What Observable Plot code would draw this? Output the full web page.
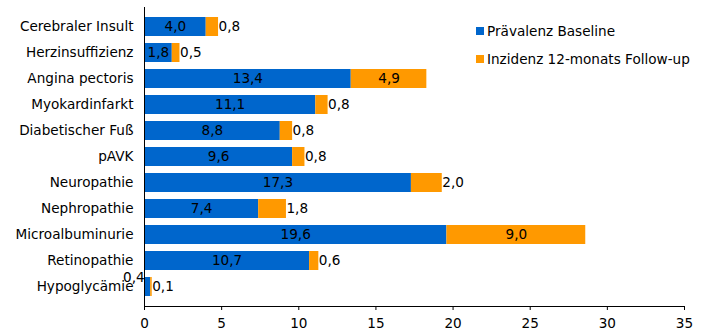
<!DOCTYPE html>
<html><head><meta charset="utf-8">
<script src="https://cdn.jsdelivr.net/npm/d3@7"></script>
<script src="https://cdn.jsdelivr.net/npm/@observablehq/plot@0.6"></script>
<style>
body{margin:0;background:#fff;font-family:"DejaVu Sans",Verdana,sans-serif;}
#wrap{position:relative;width:712px;height:334px;}
.leg{position:absolute;font-size:13.6px;color:#000;display:flex;align-items:center;white-space:nowrap;}
.sw{width:8px;height:8px;margin-right:3px;}
</style></head>
<body><div id="wrap"></div>
<script>
const categories = ["Cerebraler Insult","Herzinsuffizienz","Angina pectoris","Myokardinfarkt","Diabetischer Fuß","pAVK","Neuropathie","Nephropathie","Microalbuminurie","Retinopathie","Hypoglycämie"];
const baseline = [4.0,1.8,13.4,11.1,8.8,9.6,17.3,7.4,19.6,10.7,0.4];
const incidence = [0.8,0.5,4.9,0.8,0.8,0.8,2.0,1.8,9.0,0.6,0.1];
const seriesNames = ["Prävalenz Baseline","Inzidenz 12-monats Follow-up"];
const colors = ["#0066cc","#ff9900"];
const xTicks = [0,5,10,15,20,25,30,35];

const FS = 13.6;
const fmt = v => d3.format(".1f")(v).replace(".", ",");
const rows = categories.map((c,i)=>({cat:c, b:baseline[i], n:incidence[i]}));
const bars = rows.flatMap(r=>[
  {cat:r.cat, s:seriesNames[0], x1:0, x2:r.b},
  {cat:r.cat, s:seriesNames[1], x1:r.b, x2:r.b+r.n}
]);
const smallB = rows.filter(r=>r.b < 1);
const bigB = rows.filter(r=>r.b >= 1);
const smallN = rows.filter(r=>r.n < 3);
const bigN = rows.filter(r=>r.n >= 3);

const chart = Plot.plot({
  width:712, height:334,
  marginLeft:144, marginRight:28, marginTop:7, marginBottom:28,
  style:{fontFamily:"DejaVu Sans, Verdana, sans-serif", fontSize:FS+"px", color:"#000", background:"#fff"},
  x:{domain:[0,35], ticks:xTicks, label:null},
  y:{domain:categories, padding:0.26, label:null},
  color:{domain:seriesNames, range:colors},
  marks:[
    Plot.barX(bars,{y:"cat", x1:"x1", x2:"x2", fill:"s"}),
    Plot.text(bigB,{y:"cat", x:d=>d.b/2, text:d=>fmt(d.b), fill:"#000", textAnchor:"middle", fontSize:FS}),
    Plot.text(smallB,{y:"cat", x:"b", text:d=>fmt(d.b), fill:"#000", textAnchor:"end", dx:-6, dy:-9, fontSize:FS}),
    Plot.text(bigN,{y:"cat", x:d=>d.b+d.n/2, text:d=>fmt(d.n), fill:"#000", textAnchor:"middle", fontSize:FS}),
    Plot.text(smallN,{y:"cat", x:d=>d.b+d.n, text:d=>fmt(d.n), fill:"#000", textAnchor:"start", dx:0, fontSize:FS}),
    Plot.ruleX([0],{stroke:"#000"}),
    Plot.frame({anchor:"bottom", stroke:"#000"}),
    Plot.axisX({ticks:xTicks, tickSize:4, tickPadding:8, tickFormat:d=>String(d), label:null, stroke:"#000", fill:"#000"}),
    Plot.axisY({tickSize:0, tickPadding:11, label:null, fill:"#000"})
  ]
});
const wrap = document.getElementById("wrap");
wrap.appendChild(chart);
const legPos = [[476,23],[476,51]];
seriesNames.forEach((n,i)=>{
  const d = document.createElement("div");
  d.className="leg";
  d.style.left = legPos[i][0]+"px";
  d.style.top = legPos[i][1]+"px";
  d.innerHTML = `<span class="sw" style="background:${colors[i]}"></span><span>${n}</span>`;
  wrap.appendChild(d);
});
</script></body></html>
